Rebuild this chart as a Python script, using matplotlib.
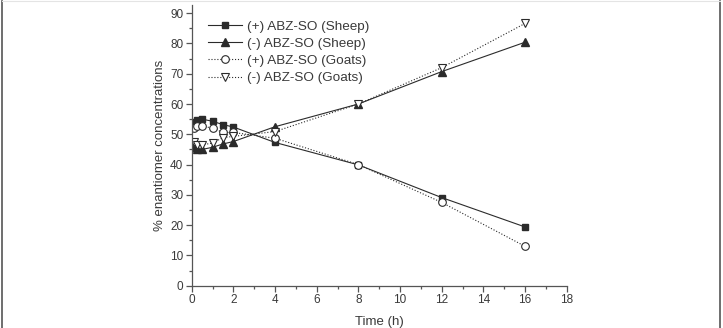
import matplotlib
matplotlib.use("Agg")
import matplotlib.pyplot as plt
from matplotlib.lines import Line2D
from matplotlib.ticker import MultipleLocator

plt.rcParams['font.family'] = ['Liberation Sans', 'DejaVu Sans']

# sampling times (h)
time_h = [0.1, 0.25, 0.5, 1, 1.5, 2, 4, 8, 12, 16]

# % enantiomer
plus_sheep = [54.2, 54.8, 55.0, 54.3, 53.2, 52.4, 47.3, 39.9, 29.1, 19.4]
minus_sheep = [45.8, 45.2, 45.0, 45.7, 46.8, 47.6, 52.5, 60.0, 70.7, 80.4]
plus_goats = [52.1, 52.8, 52.6, 52.1, 50.6, 50.6, 48.7, 40.0, 27.5, 13.0]
minus_goats = [47.6, 46.6, 46.5, 47.1, 48.9, 49.3, 50.9, 60.0, 72.0, 86.6]

ink = '#2b2b2b'
txt = '#3a3a3a'

fig = plt.figure(figsize=(7.23, 3.28), dpi=100)
ax = fig.add_axes([0.2651, 0.129, 0.5187, 0.8558])

ax.plot(time_h, plus_sheep, color=ink, lw=0.8, ls='-', marker='s', ms=5,
        mfc=ink, mec=ink, label='(+) ABZ-SO (Sheep)')
ax.plot(time_h, minus_sheep, color=ink, lw=0.8, ls='-', marker='^', ms=6,
        mfc=ink, mec=ink, label='(-) ABZ-SO (Sheep)')
ax.plot(time_h, plus_goats, color=ink, lw=0.8, ls=':', marker='o', ms=5.5,
        mfc='white', mec=ink, mew=0.8, label='(+) ABZ-SO (Goats)')
ax.plot(time_h, minus_goats, color=ink, lw=0.8, ls=':', marker='v', ms=6,
        mfc='white', mec=ink, mew=0.8, label='(-) ABZ-SO (Goats)')

ax.set_xlim(0, 18)
ax.set_ylim(0, 92.7)
ax.xaxis.set_major_locator(MultipleLocator(2))
ax.xaxis.set_minor_locator(MultipleLocator(1))
ax.yaxis.set_minor_locator(MultipleLocator(5))
ax.set_yticks(range(0, 91, 10))

for s in ['top', 'right']:
    ax.spines[s].set_visible(False)
for s in ['left', 'bottom']:
    ax.spines[s].set_color('#555555')
    ax.spines[s].set_linewidth(0.9)

ax.tick_params(which='major', direction='out', length=4, width=0.9,
               color='#555555', labelsize=8.5, labelcolor=txt, pad=2)
ax.tick_params(which='minor', direction='out', length=2.5, width=0.9,
               color='#555555')

ax.set_xlabel('Time (h)', fontsize=9.5, color=txt, labelpad=7)
ax.set_ylabel('% enantiomer concentrations', fontsize=9.5, color=txt, labelpad=3)

leg = ax.legend(loc='upper left', bbox_to_anchor=(0.03, 0.965), frameon=False,
                fontsize=9.7, handlelength=2.5, handletextpad=0.35,
                labelspacing=0.36, borderaxespad=0)
for t in leg.get_texts():
    t.set_color(txt)

# panel frame: side edges only, faint top edge
x_l, x_r = 1.5 / 723, 719.5 / 723
fig.add_artist(Line2D([x_l, x_l], [0, 0.997], transform=fig.transFigure,
                      color='#555555', lw=1.2))
fig.add_artist(Line2D([x_r, x_r], [0, 0.997], transform=fig.transFigure,
                      color='#555555', lw=1.2))
fig.add_artist(Line2D([x_l, x_r], [0.997, 0.997], transform=fig.transFigure,
                      color='#e4e4e4', lw=0.8))

fig.savefig('out.png', dpi=100)
